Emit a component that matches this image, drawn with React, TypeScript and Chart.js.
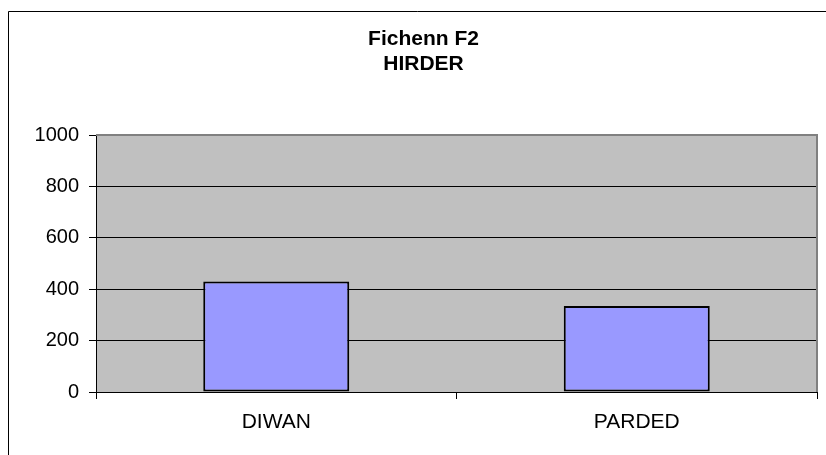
import React, { useEffect, useRef } from "react";
import { Chart, registerables } from "chart.js";

Chart.register(...registerables);

const categories = ["DIWAN", "PARDED"];
const values = [430, 335];
const titleLines = ["Fichenn F2", "HIRDER"];
const yMin = 0;
const yMax = 1000;
const yStep = 200;

const FONT = "'Liberation Sans', Arial, Helvetica, sans-serif";

const decorPlugin = {
  id: "decor",
  beforeDraw(chart: any) {
    const { ctx, chartArea } = chart;
    ctx.save();
    ctx.fillStyle = "#FFFFFF";
    ctx.fillRect(0, 0, chart.width, chart.height);
    ctx.fillStyle = "#C0C0C0";
    ctx.fillRect(chartArea.left, chartArea.top, chartArea.right - chartArea.left, chartArea.bottom - chartArea.top);
    ctx.restore();
  },
  beforeDatasetsDraw(chart: any) {
    const { ctx, chartArea } = chart;
    ctx.save();
    ctx.strokeStyle = "#808080";
    ctx.lineWidth = 2;
    ctx.beginPath();
    ctx.moveTo(chartArea.left, chartArea.top);
    ctx.lineTo(chartArea.right, chartArea.top);
    ctx.lineTo(chartArea.right, chartArea.bottom);
    ctx.stroke();
    ctx.restore();
  },
  afterDraw(chart: any) {
    const { ctx } = chart;
    ctx.save();
    ctx.strokeStyle = "#000000";
    ctx.lineWidth = 1;
    ctx.beginPath();
    ctx.moveTo(8.5, chart.height);
    ctx.lineTo(8.5, 11.5);
    ctx.lineTo(chart.width, 11.5);
    ctx.stroke();
    ctx.fillStyle = "#000000";
    ctx.font = `bold 21px ${FONT}`;
    ctx.textAlign = "center";
    ctx.textBaseline = "middle";
    titleLines.forEach((line, i) => {
      ctx.fillText(line, 423.5, 39 + i * 25);
    });
    ctx.restore();
  },
};

export default function App() {
  const ref = useRef<HTMLCanvasElement | null>(null);
  useEffect(() => {
    if (!ref.current) return;
    const chart = new Chart(ref.current, {
      type: "bar",
      data: {
        labels: categories,
        datasets: [
          {
            data: values,
            backgroundColor: "#9999FF",
            borderColor: "#000000",
            borderWidth: 2,
            borderSkipped: false,
            barPercentage: 0.405,
            categoryPercentage: 1,
          },
        ],
      },
      options: {
        responsive: false,
        animation: false,
        layout: { padding: { top: 135, right: 9, left: 0, bottom: 0 } },
        plugins: { legend: { display: false }, tooltip: { enabled: false }, title: { display: false } },
        scales: {
          x: {
            offset: true,
            grid: { offset: true, drawOnChartArea: false, color: "#000000", tickLength: 7 },
            border: { display: true, color: "#000000", width: 1 },
            ticks: { color: "#000000", font: { family: FONT, size: 21 }, padding: 11, maxRotation: 0 },
            afterFit(scale: any) {
              scale.height = 63;
            },
          },
          y: {
            min: yMin,
            max: yMax,
            grid: { color: "#000000", tickLength: 7 },
            border: { display: true, color: "#000000", width: 1 },
            ticks: {
              stepSize: yStep,
              color: "#000000",
              font: { family: FONT, size: 20 },
              padding: 10,
              callback: (v: any) => String(v),
            },
            afterFit(scale: any) {
              scale.width = 96;
            },
          },
        },
      },
      plugins: [decorPlugin],
    });
    return () => chart.destroy();
  }, []);
  return (
    <div style={{ position: "absolute", left: 0, top: 0, width: 826, height: 455 }}>
      <canvas ref={ref} width={826} height={455} />
    </div>
  );
}
